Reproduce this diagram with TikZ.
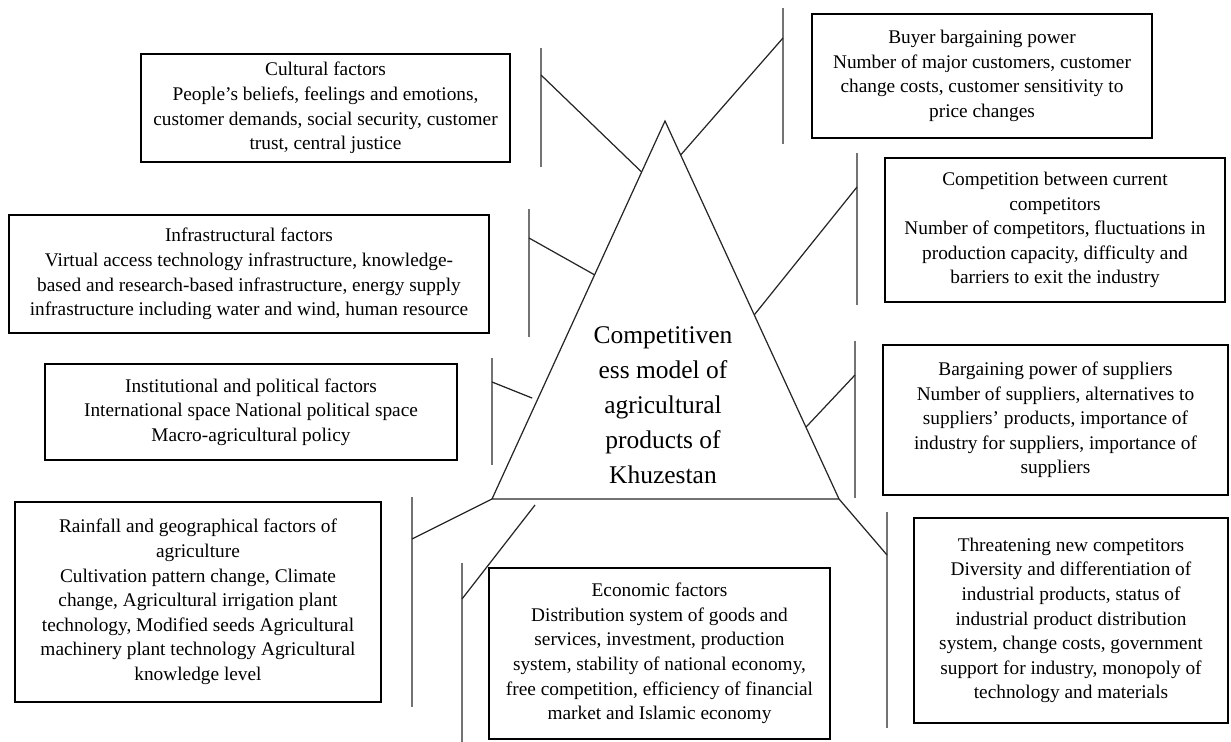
\documentclass[tikz,border=0pt]{standalone}
\usepackage{fontspec}
\setmainfont{Liberation Serif}
\usepackage{tikz}
\usetikzlibrary{calc}
\tikzset{
  factor/.style={draw, line width=0.7pt, align=center, inner sep=2pt,
    font=\fontsize{11}{14}\selectfont},
  bar/.style={black!55, line width=0.9pt},
  link/.style={black!85, line width=0.7pt},
}

\begin{document}
\begin{tikzpicture}[x=0.02cm, y=-0.02cm]
  \useasboundingbox (0,0) rectangle (1231,742);
  % triangle in the middle
  \coordinate (apex) at (665,121);
  \coordinate (bl) at (492,499);
  \coordinate (br) at (839,499);
  \draw[link] (apex) -- (bl) -- (br) -- cycle;
  \node[align=center, font=\fontsize{14.5}{20}\selectfont] (core) at (663,405)
    {Competitiven\\ess model of\\agricultural\\products of\\Khuzestan};
  % factor boxes
  \node[factor, minimum width=7.38cm, minimum height=2.16cm] (cult) at (325.5,108)
    {Cultural factors\\People's beliefs, feelings and emotions,\\customer demands, social security, customer\\trust, central justice};
  \node[factor, minimum width=6.8cm, minimum height=2.48cm] (buy) at (982,76)
    {Buyer bargaining power\\Number of major customers, customer\\change costs, customer sensitivity to\\price changes};
  \node[factor, minimum width=6.8cm, minimum height=2.88cm] (comp) at (1055,230)
    {Competition between current\\competitors\\Number of competitors, fluctuations in\\production capacity, difficulty and\\barriers to exit the industry};
  \node[factor, minimum width=9.6cm, minimum height=2.36cm] (infra) at (249,274)
    {Infrastructural factors\\Virtual access technology infrastructure, knowledge-\\based and research-based infrastructure, energy supply\\infrastructure including water and wind, human resource};
  \node[factor, minimum width=8.24cm, minimum height=1.92cm] (inst) at (251,412)
    {Institutional and political factors\\International space National political space\\Macro-agricultural policy};
  \node[factor, minimum width=6.9cm, minimum height=3cm] (supp) at (1055.5,420)
    {Bargaining power of suppliers\\Number of suppliers, alternatives to\\suppliers' products, importance of\\industry for suppliers, importance of\\suppliers};
  \node[factor, minimum width=7.32cm, minimum height=4cm] (rain) at (198,602)
    {Rainfall and geographical factors of\\agriculture\\Cultivation pattern change, Climate\\change, Agricultural irrigation plant\\technology, Modified seeds Agricultural\\machinery plant technology Agricultural\\knowledge level};
  \node[factor, minimum width=6.82cm, minimum height=3.42cm] (econ) at (659.5,653.5)
    {Economic factors\\Distribution system of goods and\\services, investment, production\\system, stability of national economy,\\free competition, efficiency of financial\\market and Islamic economy};
  \node[factor, minimum width=6.28cm, minimum height=4.1cm] (threat) at (1071,620.5)
    {Threatening new competitors\\Diversity and differentiation of\\industrial products, status of\\industrial product distribution\\system, change costs, government\\support for industry, monopoly of\\technology and materials};
  % vertical bars: name/x/top/bottom/joint
  \foreach \nm/\x/\ya/\yb/\yj in {cult/541/48/167/75, buy/783/8/144/38,
      comp/857/153/305/187, infra/529/209/337/238, inst/492/358/465/382,
      supp/855/341/498/375, rain/412/497/707/539, econ/462/563/742/599,
      threat/887/512/728/555}{
    \coordinate (\nm T) at (\x,\ya);
    \coordinate (\nm B) at (\x,\yb);
    \coordinate (\nm J) at (\x,\yj);
    \draw[bar] (\nm T) -- (\nm B);
  }
  % links to the triangle
  \draw[link] (cultJ) -- ($(apex)!0.135!(bl)$);
  \draw[link] (buyJ) -- ($(apex)!0.09!(br)$);
  \draw[link] (compJ) -- ($(apex)!0.513!(br)$);
  \draw[link] (infraJ) -- ($(apex)!0.407!(bl)$);
  \draw[link] (instJ) -- ($(apex)!0.733!(bl)+(-6,0)$);
  \draw[link] (suppJ) -- ($(apex)!0.81!(br)$);
  \draw[link] (rainJ) -- (bl);
  \draw[link] (econJ) -- ($(bl)!0.124!(br)+(0,6)$);
  \draw[link] (br) -- (threatJ);
\end{tikzpicture}
\end{document}
